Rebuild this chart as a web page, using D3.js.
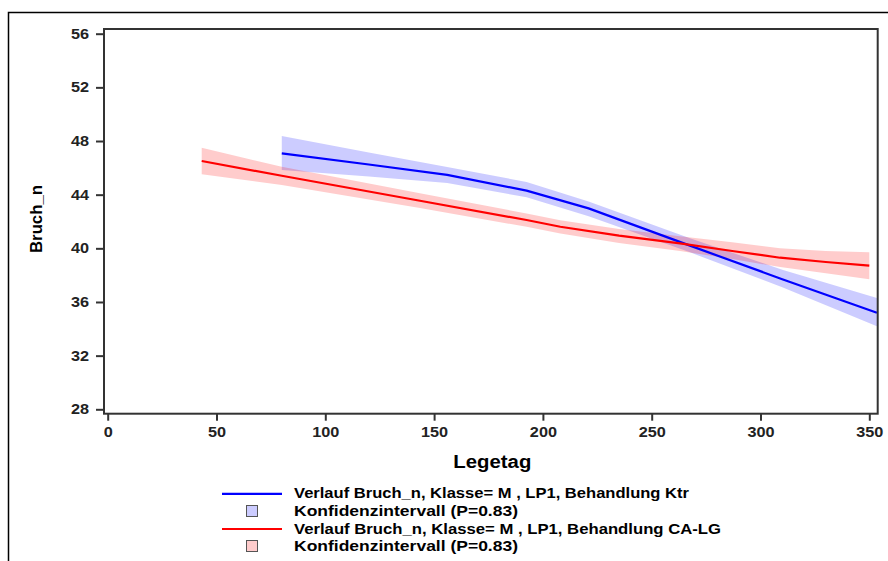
<!DOCTYPE html>
<html><head><meta charset="utf-8">
<script src="https://cdn.jsdelivr.net/npm/d3@7"></script>
<style>
html,body{margin:0;padding:0;background:#fff;}
svg{display:block;font-family:"Liberation Sans",Arial,sans-serif;font-weight:bold;}
</style></head>
<body>
<svg id="c" width="888" height="561"></svg>
<script>
// ---- data ----
const ktrX     = [80, 120, 156, 192.5, 221, 267.6, 310, 353.5];
const ktrY     = [47.08, 46.25, 45.47, 44.3, 42.98, 40.2, 37.7, 35.2];
const ktrLow   = [45.84, 45.35, 44.87, 43.8, 42.4, 39.7, 37.1, 34.2];
const ktrHigh  = [48.37, 47.15, 46.07, 44.95, 43.5, 40.75, 38.4, 36.3];

const caX      = [43.2, 80, 143.5, 192.5, 208, 235, 263, 287, 309, 330, 350];
const caY      = [46.51, 45.41, 43.55, 42.11, 41.61, 40.95, 40.37, 39.8, 39.3, 38.98, 38.71];
const caLow    = [45.52, 44.72, 43.0, 41.6, 41.1, 40.4, 39.8, 39.2, 38.6, 38.15, 37.69];
const caHigh   = [47.5, 46.08, 44.1, 42.6, 42.1, 41.45, 40.9, 40.45, 40.0, 39.8, 39.7];

const xTicks = [0, 50, 100, 150, 200, 250, 300, 350];
const yTicks = [28, 32, 36, 40, 44, 48, 52, 56];
const legendLabels = [
  "Verlauf Bruch_n, Klasse= M , LP1, Behandlung Ktr",
  "Konfidenzintervall (P=0.83)",
  "Verlauf Bruch_n, Klasse= M , LP1, Behandlung CA-LG",
  "Konfidenzintervall (P=0.83)"
];

// ---- layout ----
const svg = d3.select("#c");
const F = {l:104, r:877.7, t:29, b:413.7};
const x = d3.scaleLinear().domain([0,350]).range([107.7,869.3]);
const y = d3.scaleLinear().domain([28,56]).range([409.3,33.7]);

function stretch(sel, k){
  sel.each(function(){
    const len = this.getComputedTextLength();
    d3.select(this).attr("textLength", len*k).attr("lengthAdjust","spacingAndGlyphs");
  });
}

// outer border
svg.append("rect").attr("x",8.5).attr("y",12.5).attr("width",1000).attr("height",1000)
  .attr("fill","none").attr("stroke","#000").attr("stroke-width",1.5);

function series(xs, ys, lo, hi, color, band){
  const pts = xs.map((d,i)=>({x:d,y:ys[i],lo:lo[i],hi:hi[i]}));
  return {pts, color, band};
}
const sK = series(ktrX, ktrY, ktrLow, ktrHigh, "#0000ff", "rgba(0,0,255,0.2)");
const sC = series(caX, caY, caLow, caHigh, "#ff0000", "rgba(255,0,0,0.2)");
const area = d3.area().x(d=>x(d.x)).y0(d=>y(d.lo)).y1(d=>y(d.hi));
const line = d3.line().x(d=>x(d.x)).y(d=>y(d.y));

const g = svg.append("g");
g.append("defs").append("clipPath").attr("id","clip").append("rect")
  .attr("x",F.l).attr("y",F.t).attr("width",F.r-F.l).attr("height",F.b-F.t);
const pg = g.append("g").attr("clip-path","url(#clip)");
[sK,sC].forEach(s=>pg.append("path").attr("d",area(s.pts)).attr("fill",s.band));
[sK,sC].forEach(s=>pg.append("path").attr("d",line(s.pts)).attr("fill","none")
  .attr("stroke",s.color).attr("stroke-width",2.2).attr("stroke-linejoin","round"));

// frame
svg.append("rect").attr("x",F.l).attr("y",F.t).attr("width",F.r-F.l).attr("height",F.b-F.t)
  .attr("fill","none").attr("stroke","#333").attr("stroke-width",2);

// axes
const yAx = svg.append("g").attr("transform",`translate(${F.l},0)`)
  .call(d3.axisLeft(y).tickValues(yTicks).tickSize(8).tickPadding(7).tickFormat(d3.format("d")));
const xAx = svg.append("g").attr("transform",`translate(0,${F.b})`)
  .call(d3.axisBottom(x).tickValues(xTicks).tickSize(7).tickPadding(6).tickFormat(d3.format("d")));
[yAx,xAx].forEach(a=>{
  a.select(".domain").remove();
  a.selectAll(".tick line").attr("stroke","#333").attr("stroke-width",2);
  a.selectAll(".tick text").attr("fill","#222").style("font-size","14.5px")
    .style("font-family","'Liberation Sans',Arial,sans-serif").style("font-weight","bold");
  stretch(a.selectAll(".tick text"), 1.12);
});

// axis titles
svg.append("text").attr("x",(F.l+F.r)/2+1.5).attr("y",467.7).attr("text-anchor","middle")
  .style("font-size","17.5px").attr("fill","#000").attr("textLength",78)
  .attr("lengthAdjust","spacingAndGlyphs").text("Legetag");
svg.append("text").attr("transform","translate(42,219) rotate(-90)").attr("text-anchor","middle")
  .style("font-size","17px").attr("fill","#000").attr("textLength",68)
  .attr("lengthAdjust","spacingAndGlyphs").text("Bruch_n");

// legend
const rowsY = [498.3, 516, 533.5, 551];
const rowLen = [395, 224, 427, 224];
const lg = svg.append("g");
legendLabels.forEach((t,i)=>{
  const yy = rowsY[i];
  if(i%2===0){
    lg.append("line").attr("x1",222).attr("x2",282).attr("y1",yy-4.5).attr("y2",yy-4.5)
      .attr("stroke", i===0? sK.color : sC.color).attr("stroke-width",2.2);
  } else {
    lg.append("rect").attr("x",246.5).attr("y",yy-10.5).attr("width",11).attr("height",11)
      .attr("fill", i===1? "#ccccff" : "#ffcccc").attr("stroke","#555").attr("stroke-width",1);
  }
  lg.append("text").attr("x",294).attr("y",yy).style("font-size","15px").attr("fill","#000")
    .attr("textLength",rowLen[i]).attr("lengthAdjust","spacingAndGlyphs").text(t);
});
</script>
</body></html>
